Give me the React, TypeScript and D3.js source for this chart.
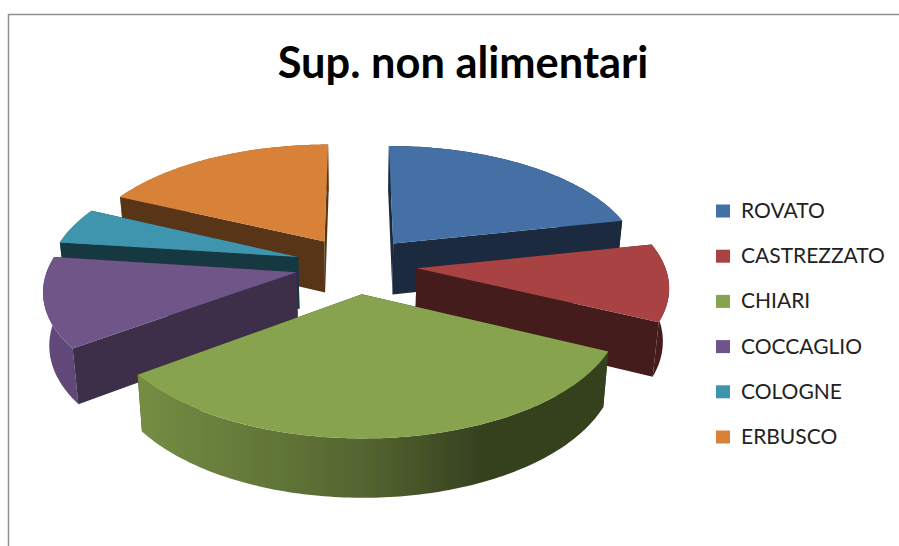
import { useEffect, useRef } from 'react'
import * as d3 from 'd3'

const chartTitle = 'Sup. non alimentari'
const categories = ['ROVATO', 'CASTREZZATO', 'CHIARI', 'COCCAGLIO', 'COLOGNE', 'ERBUSCO']
// as share of the pie
const shares = [21.6, 10.5, 32.7, 12.2, 5.0, 17.9]
const topColors = ['#4470a5', '#a94342', '#87a34e', '#6f5489', '#4095ae', '#d88139']
const sideShades = [0.39, 0.41, 0.39, 0.54, 0.37, 0.41]

const width = 899
const height = 546

// the flat disc seen in perspective
const cx = 356
const cy = 265
const rx = 248
const ry = 116
const perspective = 0.135
const explode = 0.245
const depth = 52
const bottomShrink = 0.98

type Pt = { u: number; v: number }

const top = (p: Pt): [number, number] => {
  const s = 1 / (1 - perspective * p.v)
  return [cx + rx * p.u * s, cy + ry * p.v * s]
}

const bottom = (p: Pt): [number, number] => {
  const [x, y] = top(p)
  return [cx + (x - cx) * bottomShrink, y + depth / (1 - 0.1 * p.v)]
}

const App = () => {
  const svgRef = useRef<SVGSVGElement>(null)

  useEffect(() => {
    const svgEl = d3.select(svgRef.current)
    svgEl.selectAll('*').remove()

    const defs = svgEl.append('defs')
    defs
      .append('filter')
      .attr('id', 'soft')
      .append('feGaussianBlur')
      .attr('stdDeviation', 0.45)

    const shade = (c: string, f: number) => {
      const rgb = d3.rgb(c)
      return d3.rgb(rgb.r * f, rgb.g * f, rgb.b * f).formatHex()
    }

    // the frame only shows on the top and left
    svgEl
      .append('path')
      .attr('d', `M8.5,${height}V14.5H${width}`)
      .attr('fill', 'none')
      .attr('stroke', '#8f8f8f')
      .attr('stroke-width', 1.5)

    svgEl
      .append('text')
      .attr('x', 463)
      .attr('y', 78)
      .attr('text-anchor', 'middle')
      .style('font-family', 'Lato')
      .style('font-weight', '700')
      .style('font-size', '43.4px')
      .attr('fill', '#000')
      .text(chartTitle)

    const arcs = d3
      .pie<number>()
      .sort(null)
      .value((d) => d)(shares)

    const slices = arcs.map((a, i) => {
      const mid = (a.startAngle + a.endAngle) / 2
      const apex: Pt = { u: explode * Math.sin(mid), v: -explode * Math.cos(mid) }
      const rim: Pt[] = d3
        .range(a.startAngle, a.endAngle, Math.PI / 180)
        .concat(a.endAngle)
        .map((t) => ({ u: apex.u + Math.sin(t), v: apex.v - Math.cos(t) }))
      return { i, apex, rim, color: topColors[i] }
    })

    const line = d3.line()
    const meanV = (pts: Pt[]) => d3.mean(pts, (p) => p.v) as number

    // outer wall gets lit from the left
    slices.forEach((s) => {
      const grad = defs
        .append('linearGradient')
        .attr('id', `wall${s.i}`)
        .attr('gradientUnits', 'userSpaceOnUse')
        .attr('x1', 40)
        .attr('x2', 620)
        .attr('y1', 0)
        .attr('y2', 0)
      ;[
        [0, 0.88],
        [0.18, 0.86],
        [0.56, 0.62],
        [0.76, 0.4],
        [1, 0.4],
      ].forEach(([o, f]) => {
        grad.append('stop').attr('offset', o).attr('stop-color', shade(s.color, f))
      })
    })

    const pie = svgEl.append('g').attr('filter', 'url(#soft)')

    // back to front
    d3.sort(slices, (s) => s.apex.v).forEach((s) => {
      const g = pie.append('g')
      const first = s.rim[0]
      const last = s.rim[s.rim.length - 1]
      const walls = [
        { edge: [s.apex, first], fill: shade(s.color, sideShades[s.i]) },
        { edge: [s.apex, last], fill: shade(s.color, sideShades[s.i]) },
        { edge: s.rim, fill: `url(#wall${s.i})` },
      ]
      d3.sort(walls, (w) => meanV(w.edge)).forEach((w) => {
        const outline = w.edge.map(top).concat(w.edge.map(bottom).reverse())
        g.append('path')
          .attr('d', line(outline) + 'Z')
          .attr('fill', w.fill)
      })
      g.append('path')
        .attr('d', line([s.apex, ...s.rim].map(top)) + 'Z')
        .attr('fill', s.color)
    })

    // legend
    const legendY = d3
      .scalePoint<string>()
      .domain(categories)
      .range([211, 437])

    const legend = svgEl
      .append('g')
      .selectAll('g')
      .data(categories)
      .join('g')
      .attr('transform', (d) => `translate(716,${legendY(d)})`)
    legend
      .append('rect')
      .attr('x', 0)
      .attr('y', -6.5)
      .attr('width', 14)
      .attr('height', 13)
      .attr('fill', (d, i) => topColors[i])
    legend
      .append('text')
      .attr('x', 25)
      .attr('y', 7)
      .style('font-family', 'Lato')
      .style('font-size', '21px')
      .attr('fill', '#222')
      .text((d) => d)
  }, [])

  return (
    <svg
      ref={svgRef}
      width={width}
      height={height}
      style={{ position: 'absolute', left: 0, top: 0, background: '#fff' }}
    />
  )
}

export default App
